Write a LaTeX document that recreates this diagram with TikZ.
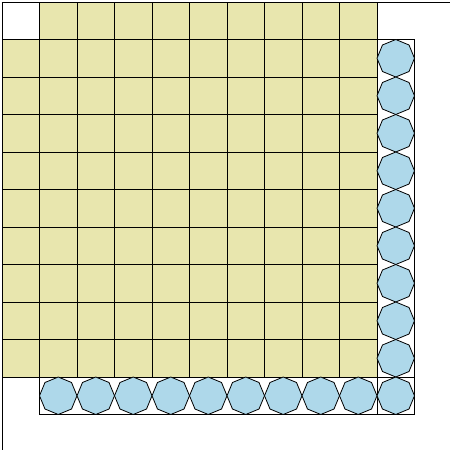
\documentclass[tikz,border=0pt]{standalone}
\definecolor{cellyellow}{RGB}{232,230,174}
\definecolor{octblue}{RGB}{174,216,234}
\tikzset{
  cellbox/.style={draw=black, fill=cellyellow, line width=0.8pt},
  framebox/.style={draw=black, line width=0.8pt},
  octo/.style={draw=black, fill=octblue, line width=0.8pt, line join=miter}
}
\newcommand{\octagonat}[1]{%
  \path[octo] ([shift={(0:18.75)}]#1)
    -- ([shift={(45:18.75)}]#1) -- ([shift={(90:18.75)}]#1)
    -- ([shift={(135:18.75)}]#1) -- ([shift={(180:18.75)}]#1)
    -- ([shift={(225:18.75)}]#1) -- ([shift={(270:18.75)}]#1)
    -- ([shift={(315:18.75)}]#1) -- cycle;}
\begin{document}
\begin{tikzpicture}[x=1pt,y=-1pt]
\useasboundingbox (0,0) rectangle (450,450);
% outer frame lines
\coordinate (tl) at (2,2);
\coordinate (tr) at (450,2);
\coordinate (bl) at (2,450);
\draw[framebox] (bl) -- (tl) -- (tr);
% grid of cells
\foreach \i in {0,...,9}{
  \foreach \j in {0,...,9}{
    \ifnum\i=0 \ifnum\j=0 \else
      \path[cellbox] ({2+37.5*\i},{2+37.5*\j}) rectangle ++(37.5,37.5);
    \fi\else
      \path[cellbox] ({2+37.5*\i},{2+37.5*\j}) rectangle ++(37.5,37.5);
    \fi
  }
}
% side frames
\draw[framebox] (377,39.5) rectangle (414.5,414.5);
\draw[framebox] (39.5,377) rectangle (414.5,414.5);
% octagons right column
\foreach \k in {0,...,9}{
  \coordinate (r\k) at (395.75,{58.25+37.5*\k});
  \octagonat{r\k}
}
% octagons bottom row
\foreach \k in {0,...,8}{
  \coordinate (b\k) at ({58.25+37.5*\k},395.75);
  \octagonat{b\k}
}
\draw[framebox] (1.6,2) -- (450,2);
\end{tikzpicture}
\end{document}
